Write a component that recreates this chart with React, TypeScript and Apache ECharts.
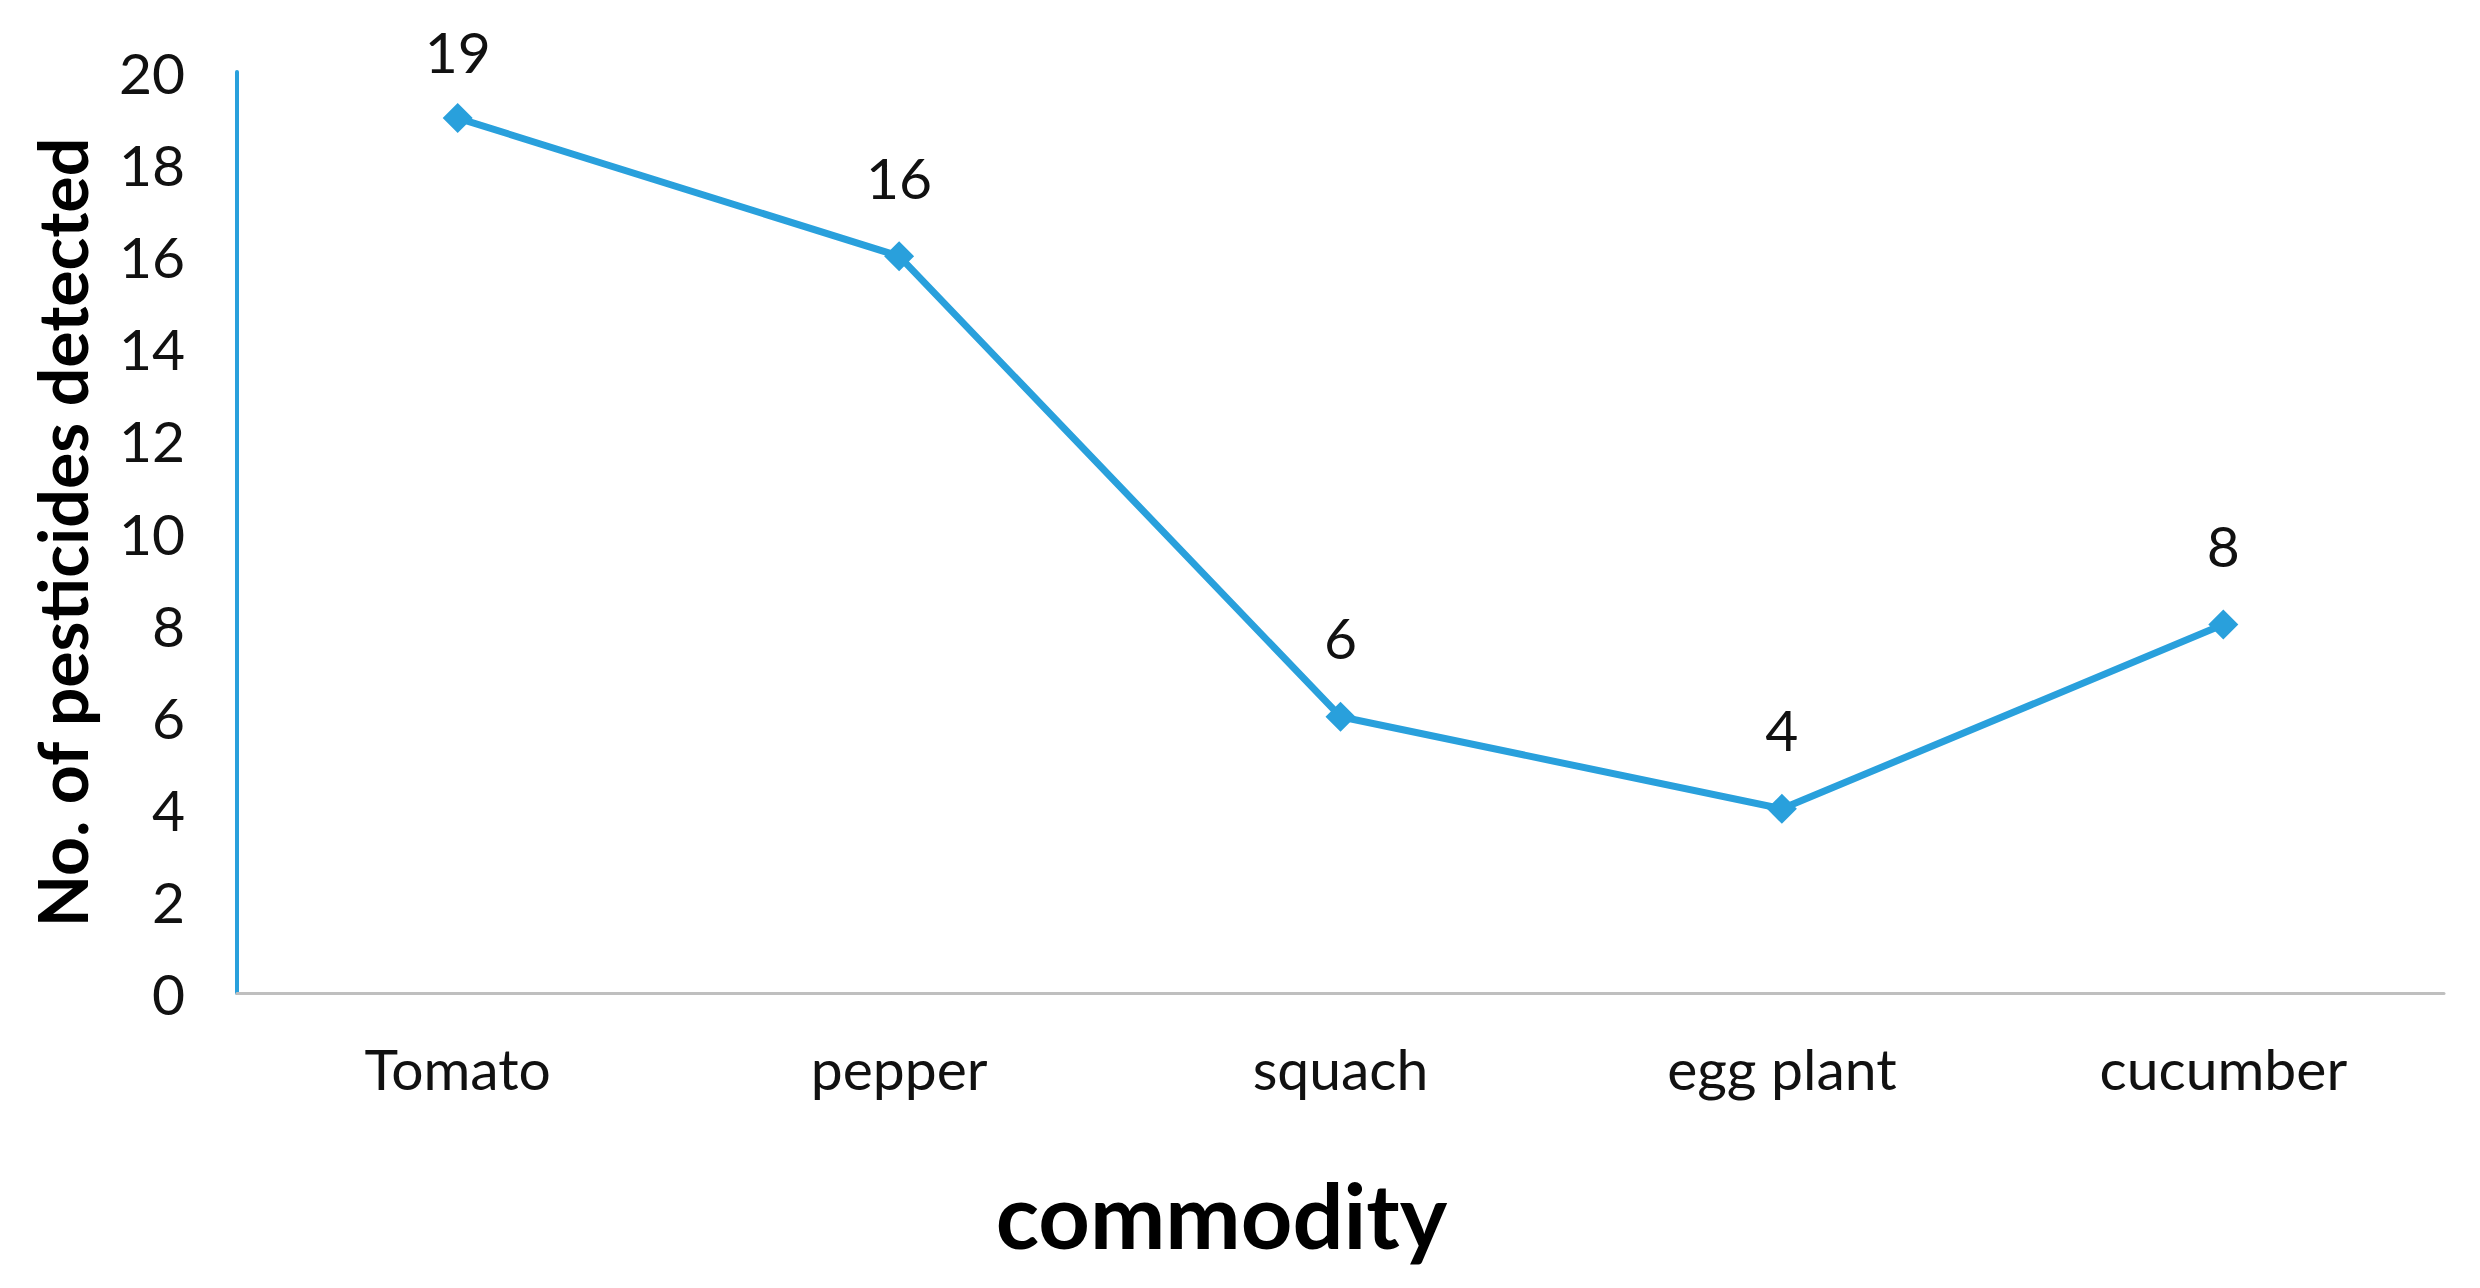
import React, { useEffect, useRef } from "react";
import * as echarts from "echarts";

const categories = ["Tomato", "pepper", "squach", "egg plant", "cucumber"];
const pesticideCounts = [19, 16, 6, 4, 8];
const yTicks = { min: 0, max: 20, interval: 2 };

export default function App() {
  const ref = useRef<HTMLDivElement>(null);
  useEffect(() => {
    if (!ref.current) return;
    const chart = echarts.init(ref.current, null, { renderer: "svg" });
    const seriesData = pesticideCounts.map((v, i) =>
      i === 0 ? { value: v, label: { distance: 24 } } : { value: v }
    );
    chart.setOption({
      animation: false,
      backgroundColor: "#ffffff",
      grid: { left: 237, right: 36, top: 72, bottom: 295, containLabel: false },
      xAxis: {
        type: "category",
        data: categories,
        boundaryGap: true,
        name: "commodity",
        nameLocation: "middle",
        nameGap: 176,
        nameTextStyle: {
          fontFamily: "Lato",
          fontWeight: "bold",
          fontSize: 90,
          color: "#000",
          padding: [0, 238, 0, 0],
        },
        axisLine: { show: true, lineStyle: { color: "#BFBFBF", width: 3 } },
        axisTick: { show: false },
        axisLabel: { fontFamily: "Lato", fontSize: 57, color: "#111", margin: 46 },
        splitLine: { show: false },
      },
      yAxis: {
        type: "value",
        min: yTicks.min,
        max: yTicks.max,
        interval: yTicks.interval,
        name: "No. of pesticides detected",
        nameLocation: "middle",
        nameGap: 142,
        nameRotate: 90,
        nameTextStyle: { fontFamily: "Lato", fontWeight: "bold", fontSize: 68, color: "#000" },
        axisLine: { show: true, lineStyle: { color: "#29A0DC", width: 4 } },
        axisTick: { show: false },
        axisLabel: { fontFamily: "Lato", fontSize: 57, color: "#111", margin: 52 },
        splitLine: { show: false },
      },
      series: [
        {
          type: "line",
          data: seriesData,
          symbol: "diamond",
          symbolSize: 30,
          itemStyle: { color: "#29A0DC" },
          lineStyle: { color: "#29A0DC", width: 7 },
          label: {
            show: true,
            position: "top",
            distance: 36,
            fontFamily: "Lato",
            fontSize: 57,
            color: "#111",
          },
        },
      ],
    });
    return () => chart.dispose();
  }, []);
  return (
    <div
      ref={ref}
      style={{ position: "fixed", left: 0, top: 0, width: 2480, height: 1288 }}
    />
  );
}
